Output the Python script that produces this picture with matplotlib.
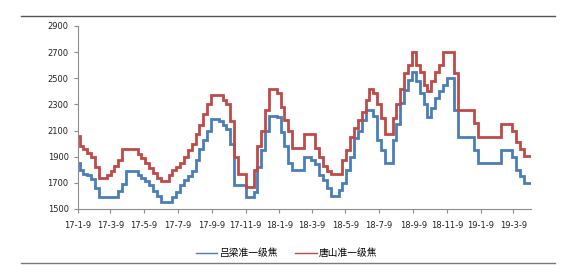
"""Weekly coke price: Lvliang vs Tangshan quasi-first-grade coke (2017-01 .. 2019-04)."""

import datetime as dt

import matplotlib
matplotlib.use("Agg")
import matplotlib.dates as mdates
import matplotlib.pyplot as plt
from matplotlib.lines import Line2D

plt.rcParams["font.family"] = ["DejaVu Sans", "Noto Sans CJK SC"]

# weekly prices, starting 2017-01-09
start_date = dt.date(2017, 1, 9)
end_date = dt.date(2019, 4, 10)

lvliang = [
    1850, 1800, 1770, 1760, 1730, 1660, 1590, 1590, 1590, 1590,
    1590, 1640, 1690, 1790, 1790, 1790, 1760, 1735, 1710, 1680,
    1640, 1600, 1550, 1550, 1550, 1590, 1630, 1680, 1720, 1750,
    1790, 1875, 1960, 2030, 2100, 2190, 2190, 2170, 2140, 2110,
    2000, 1680, 1680, 1680, 1590, 1590, 1630, 1820, 1950, 2100,
    2210, 2210, 2200, 2090, 1980, 1850, 1800, 1800, 1800, 1900,
    1900, 1875, 1840, 1760, 1720, 1660, 1600, 1600, 1645, 1700,
    1800, 1900, 2040, 2100, 2180, 2260, 2260, 2210, 2030, 1950,
    1850, 1850, 2030, 2150, 2310, 2410, 2490, 2550, 2480, 2390,
    2300, 2200, 2270, 2350, 2400, 2450, 2500, 2500, 2260, 2050,
    2050, 2050, 2050, 1950, 1850, 1850, 1850, 1850, 1850, 1850,
    1950, 1950, 1950, 1900, 1800, 1750, 1700, 1700,
]
tangshan = [
    2060, 1980, 1960, 1930, 1900, 1820, 1735, 1735, 1760, 1790,
    1830, 1875, 1960, 1960, 1960, 1960, 1920, 1890, 1850, 1810,
    1775, 1735, 1710, 1710, 1760, 1800, 1820, 1850, 1900, 1950,
    2000, 2070, 2140, 2230, 2300, 2370, 2370, 2370, 2335, 2300,
    2170, 1900, 1770, 1770, 1670, 1670, 1800, 1980, 2100, 2260,
    2420, 2420, 2385, 2280, 2180, 2100, 1970, 1970, 1970, 2070,
    2070, 2070, 1970, 1900, 1825, 1790, 1770, 1770, 1770, 1875,
    1950, 2050, 2120, 2180, 2245, 2330, 2420, 2385, 2300, 2195,
    2070, 2070, 2195, 2300, 2420, 2540, 2600, 2700, 2600, 2550,
    2450, 2400, 2475, 2550, 2600, 2700, 2700, 2700, 2540, 2260,
    2260, 2260, 2260, 2160, 2050, 2050, 2050, 2050, 2050, 2050,
    2150, 2150, 2150, 2100, 2015, 1960, 1905, 1905,
]
series_names = ["吕梁准一级焦", "唐山准一级焦"]
series_colors = ["#4a7ebb", "#be4b48"]

y_ticks = list(range(1500, 2901, 200))
x_ticks = [dt.date(2017 + (m - 1) // 12, (m - 1) % 12 + 1, 9) for m in range(1, 28, 2)]

weeks = [start_date + dt.timedelta(days=7 * i) for i in range(len(lvliang))]

fig = plt.figure(figsize=(5.63, 2.76), dpi=100)
ax = fig.add_axes([0.138, 0.243, 0.805, 0.663])

for vals, name, col in zip([lvliang, tangshan], series_names, series_colors):
    ax.plot(weeks, vals, drawstyle="steps-mid", color=col, linewidth=2.0,
            label=name, solid_joinstyle="miter")

ax.set_xlim(start_date, end_date)
ax.set_ylim(1500, 2900)
ax.set_yticks(y_ticks)
ax.set_xticks(x_ticks)
ax.xaxis.set_major_formatter(
    plt.FuncFormatter(lambda v, _: (lambda d: f"{d.year % 100}-{d.month}-{d.day}")(mdates.num2date(v))))

for side in ("top", "right"):
    ax.spines[side].set_visible(False)
for side in ("left", "bottom"):
    ax.spines[side].set_color("#8c8c8c")
    ax.spines[side].set_linewidth(0.8)
ax.tick_params(axis="both", colors="#8c8c8c", length=3, width=0.8, labelsize=6,
               labelcolor="#222222", direction="out")
ax.tick_params(axis="x", pad=6)

# page rules above and below the chart
fig.add_artist(Line2D([21 / 563, 555 / 563], [1 - 16 / 276] * 2, color="#555555", linewidth=1.0))
fig.add_artist(Line2D([21 / 563, 555 / 563], [1 - 263 / 276] * 2, color="#7a7a7a", linewidth=1.0))

handles = [Line2D([], [], color=c, linewidth=1.0) for c in series_colors]
fig.legend(handles, series_names, loc="center", bbox_to_anchor=(0.509, 0.083), ncol=2,
           frameon=False, fontsize=7, handlelength=2.2, handletextpad=0.2, columnspacing=1.8,
           prop={"family": ["Noto Sans CJK SC", "DejaVu Sans"], "size": 7})

fig.savefig("out.png", dpi=100)
